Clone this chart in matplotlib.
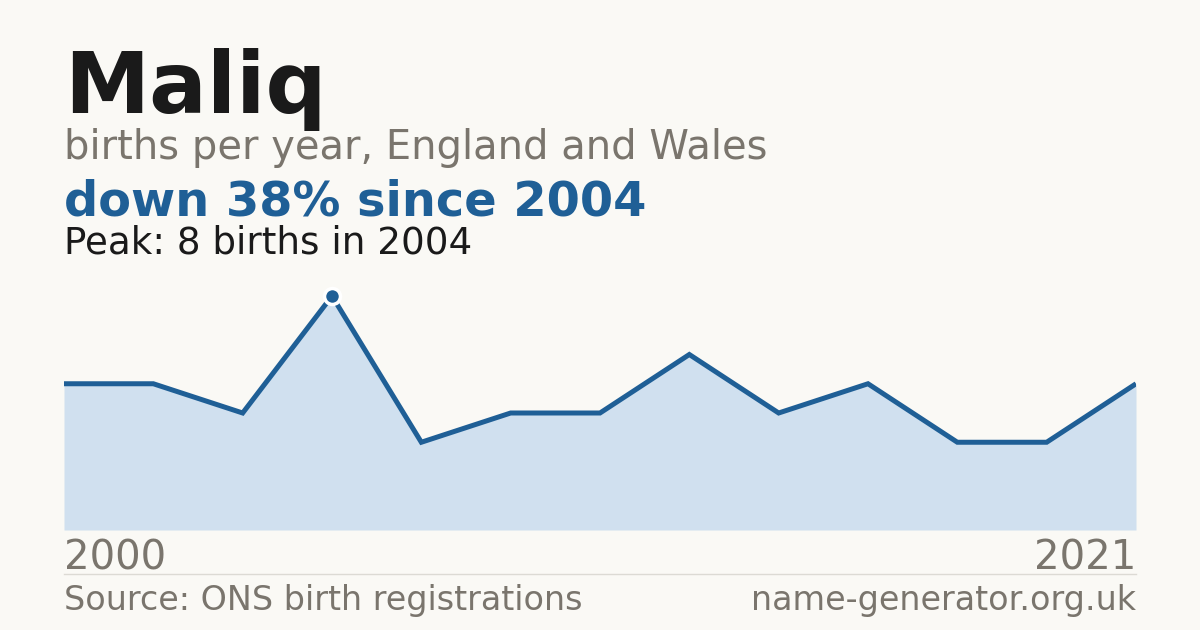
import matplotlib
matplotlib.use("Agg")
import matplotlib.pyplot as plt
from matplotlib.lines import Line2D

# births per year (13 recorded points, first 2000, last 2021)
births = [5, 5, 4, 8, 3, 4, 4, 6, 4, 5, 3, 3, 5]
first_year = "2000"
last_year = "2021"
peak_idx = 3

bg = "#faf9f5"
blue = "#1f5f96"
fill = "#d0e0ef"
grey = "#7a756d"
dark = "#1a1a1a"

W, H = 1200, 630
fig = plt.figure(figsize=(12, 6.3), dpi=100, facecolor=bg)

def fy(y):
    return 1 - y / H

# chart area: x 64..1136, y 270..530 px
ax = fig.add_axes([64 / W, fy(530), (1136 - 64) / W, (530 - 270) / H])
ax.set_facecolor(bg)
xs = list(range(len(births)))
ax.fill_between(xs, births, 0, color=fill, lw=0)
ax.plot(xs, births, color=blue, lw=3.6, solid_joinstyle="miter", solid_capstyle="butt")
ax.plot(xs[peak_idx], births[peak_idx], "o", ms=11.5, mfc=blue, mec="white", mew=2.5, zorder=5)
ax.set_xlim(0, len(births) - 1)
ax.set_ylim(0, 8 * 260 / 234)
ax.axis("off")

fig.text(64 / W, fy(113), "Maliq", fontsize=61.6, fontweight="bold", color=dark, va="baseline")
fig.text(64 / W, fy(159), "births per year, England and Wales", fontsize=28.8, color=grey, va="baseline")
fig.text(64 / W, fy(215), "down 38% since 2004", fontsize=34.5, fontweight="bold", color=blue, va="baseline")
fig.text(64 / W, fy(254), "Peak: 8 births in 2004", fontsize=26.8, color=dark, va="baseline")

fig.text(64 / W, fy(569), first_year, fontsize=28.9, color=grey, va="baseline")
fig.text(1136 / W, fy(569), last_year, fontsize=28.9, color=grey, va="baseline", ha="right")
fig.add_artist(Line2D([64 / W, 1136 / W], [fy(574), fy(574)], color="#dcdad4", lw=1))
fig.text(64 / W, fy(610), "Source: ONS birth registrations", fontsize=24, color=grey, va="baseline")
fig.text(1136 / W, fy(610), "name-generator.org.uk", fontsize=24, color=grey, va="baseline", ha="right")

fig.savefig("out.png", dpi=100, facecolor=bg)
